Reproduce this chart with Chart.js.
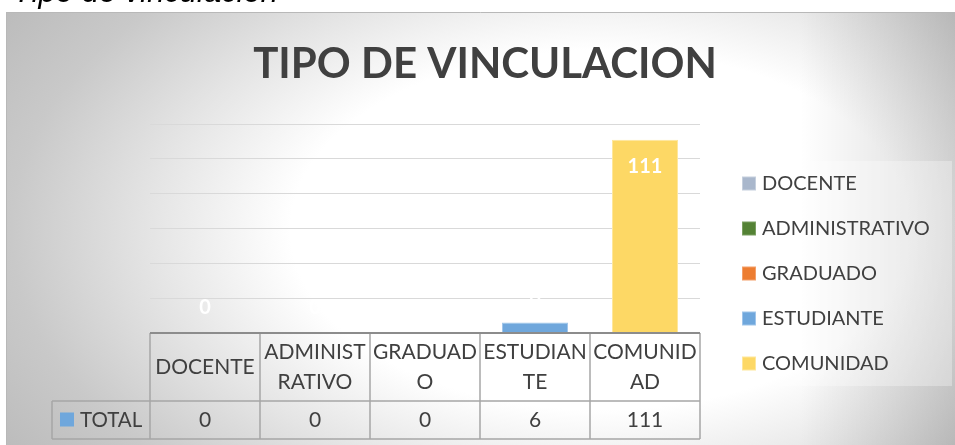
<!DOCTYPE html>
<html>
<head>
<meta charset="utf-8">
<script src="https://cdn.jsdelivr.net/npm/chart.js@4.4.1/dist/chart.umd.min.js"></script>
<style>
  html, body { margin: 0; padding: 0; background: #fff; }
  #wrap { position: relative; width: 955px; height: 445px; overflow: hidden; }
  #grafica { position: absolute; left: 0; top: 0; }
  #caption { position: absolute; left: 13px; top: -24px; font: italic 31px "Liberation Sans", Arial, sans-serif; line-height: 31px; color: #000; white-space: nowrap; }
</style>
</head>
<body>
<div id="wrap">
  <canvas id="grafica" width="955" height="445"></canvas>
  <div id="caption">Tipo de vinculación</div>
</div>
<script>
const categorias = ['DOCENTE', 'ADMINISTRATIVO', 'GRADUADO', 'ESTUDIANTE', 'COMUNIDAD'];
const totales = [0, 0, 0, 6, 111];
const serie = 'TOTAL';
const titulo = 'TIPO DE VINCULACION';
const ejeMax = 120;
const ejePaso = 20;

const coloresBarra = ['#a9b7cc', '#548235', '#ed7d31', '#6fa7dc', '#fdd865'];
const bordesBarra = ['#c5cfdd', '#7b9f62', '#f3a06a', '#a0c5ea', '#fee79c'];
const texto = '#404040';

function linea(ctx, x1, y1, x2, y2) {
  ctx.beginPath();
  ctx.moveTo(x1, y1);
  ctx.lineTo(x2, y2);
  ctx.stroke();
}

// corta la palabra por caracteres como hace la tabla de Excel
function partir(ctx, txt, max) {
  const out = [];
  let cur = '';
  for (const ch of txt) {
    if (cur && ctx.measureText(cur + ch).width > max) {
      out.push(cur);
      cur = ch;
    } else {
      cur += ch;
    }
  }
  if (cur) out.push(cur);
  return out;
}

const fondo = {
  id: 'fondo',
  beforeDraw(chart) {
    const ctx = chart.ctx;
    ctx.save();
    ctx.beginPath();
    ctx.rect(6, 12, 949, 433);
    ctx.clip();

    ctx.save();
    ctx.translate(600, 230);
    ctx.scale(1, 360 / 620);
    const g = ctx.createRadialGradient(0, 0, 0, 0, 0, 700);
    g.addColorStop(0, '#ffffff');
    g.addColorStop(0.5 / 1.13, '#ffffff');
    g.addColorStop(0.73 / 1.13, '#e4e4e4');
    g.addColorStop(0.95 / 1.13, '#c9c9c9');
    g.addColorStop(1, '#bcbcbc');
    ctx.fillStyle = g;
    ctx.fillRect(-800, -900, 1600, 1800);
    ctx.restore();

    const d = ctx.createLinearGradient(800, 0, 955, 0);
    d.addColorStop(0, 'rgba(0,0,0,0)');
    d.addColorStop(1, 'rgba(0,0,0,0.15)');
    ctx.fillStyle = d;
    ctx.fillRect(800, 12, 155, 433);

    ctx.strokeStyle = '#b8b8b8';
    ctx.lineWidth = 1;
    linea(ctx, 6, 12.5, 955, 12.5);
    linea(ctx, 6.5, 12, 6.5, 445);

    // caja de la leyenda
    ctx.fillStyle = 'rgba(255,255,255,0.3)';
    ctx.fillRect(730, 161, 222, 225);

    ctx.fillStyle = texto;
    ctx.font = 'bold 42px Lato';
    ctx.textAlign = 'center';
    ctx.textBaseline = 'alphabetic';
    ctx.fillText(titulo, 485, 78);
    ctx.restore();
  }
};

const etiquetas = {
  id: 'etiquetas',
  afterDatasetsDraw(chart) {
    const ctx = chart.ctx;
    const meta = chart.getDatasetMeta(0);
    ctx.save();
    ctx.fillStyle = '#ffffff';
    ctx.font = 'bold 20px Lato';
    ctx.textAlign = 'center';
    ctx.textBaseline = 'middle';
    meta.data.forEach((bar, i) => {
      const h = bar.base - bar.y;
      const y = h > 40 ? bar.y + 27 : bar.y - 25;
      ctx.fillText(String(totales[i]), bar.x, y);
    });
    ctx.restore();
  }
};

const tabla = {
  id: 'tabla',
  afterDraw(chart) {
    const { ctx, chartArea, scales: { x } } = chart;
    const n = categorias.length;
    const ancho = (chartArea.right - chartArea.left) / n;
    const top = chartArea.bottom;
    const filaH = 68, totH = 38;
    const y1 = top + filaH, y2 = y1 + totH;
    const izq = chartArea.left - 98;

    ctx.save();
    ctx.strokeStyle = '#a6a6a6';
    ctx.lineWidth = 1.5;
    for (let i = 0; i <= n; i++) {
      const xx = chartArea.left + i * ancho;
      linea(ctx, xx, top, xx, y2);
    }
    linea(ctx, izq, y1, chartArea.right, y1);
    linea(ctx, izq, y2, chartArea.right, y2);
    linea(ctx, izq, y1, izq, y2);
    ctx.strokeStyle = '#8c8c8c';
    ctx.lineWidth = 2;
    linea(ctx, chartArea.left, top, chartArea.right, top);

    ctx.fillStyle = texto;
    ctx.font = '21px Lato';
    ctx.textAlign = 'center';
    ctx.textBaseline = 'middle';
    categorias.forEach((cat, i) => {
      const cx = x.getPixelForValue(i);
      const partes = partir(ctx, cat, ancho - 4);
      const lh = 30.5;
      const y0 = top + filaH / 2 - (partes.length - 1) * lh / 2;
      partes.forEach((p, j) => ctx.fillText(p, cx, y0 + j * lh));
      ctx.fillText(String(totales[i]), cx, y1 + totH / 2);
    });

    ctx.fillStyle = coloresBarra[3];
    ctx.fillRect(izq + 8, y1 + 11.5, 14, 14);
    ctx.fillStyle = texto;
    ctx.font = '20.5px Lato';
    ctx.textAlign = 'left';
    ctx.fillText(serie, izq + 28, y1 + totH / 2);

    // leyenda por categoría
    ctx.font = '20px Lato';
    categorias.forEach((cat, i) => {
      const cy = 183.5 + i * 45;
      ctx.fillStyle = bordesBarra[i];
      ctx.fillRect(742, cy - 7, 14, 14);
      ctx.fillStyle = coloresBarra[i];
      ctx.fillRect(743, cy - 6, 12, 12);
      ctx.fillStyle = texto;
      ctx.fillText(cat, 762, cy);
    });
    ctx.restore();
  }
};

new Chart(document.getElementById('grafica').getContext('2d'), {
  type: 'bar',
  data: {
    labels: categorias,
    datasets: [{
      label: serie,
      data: totales,
      backgroundColor: coloresBarra,
      borderColor: bordesBarra,
      borderWidth: 1,
      barPercentage: 0.6,
      categoryPercentage: 1
    }]
  },
  options: {
    responsive: false,
    animation: false,
    devicePixelRatio: 1,
    layout: { padding: { left: 150, right: 255, top: 124, bottom: 112 } },
    plugins: {
      legend: { display: false },
      title: { display: false },
      tooltip: { enabled: false }
    },
    scales: {
      x: { display: false },
      y: {
        min: 0,
        max: ejeMax,
        ticks: { display: false, stepSize: ejePaso },
        grid: { color: '#d9d9d9', drawTicks: false },
        border: { display: false }
      }
    }
  },
  plugins: [fondo, etiquetas, tabla]
});
</script>
</body>
</html>
